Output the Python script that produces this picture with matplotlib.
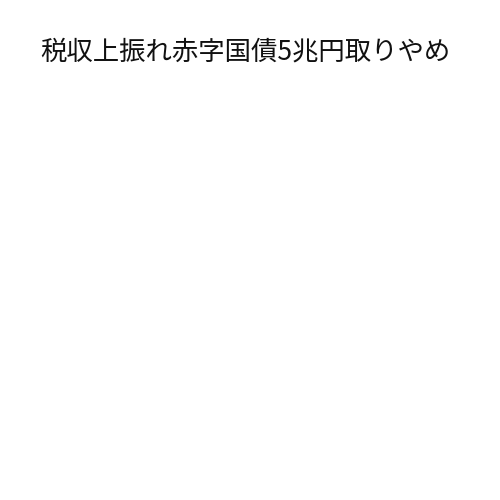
import matplotlib
matplotlib.use("Agg")
import matplotlib.pyplot as plt

plt.rcParams['font.family'] = ['Noto Sans CJK JP', 'DejaVu Sans']

title = "税収上振れ赤字国債5兆円取りやめ"
categories = []
values = []

fig = plt.figure(figsize=(5, 5), dpi=100)
fig.patch.set_facecolor("white")
ax = fig.add_axes([0.05, 0.05, 0.9, 0.8])
ax.bar(categories, values)
ax.axis("off")
fig.text(0.49, 0.897, title, ha="center", va="center", fontsize=19, color="#111111")
fig.savefig("out.png", dpi=100, facecolor="white")
